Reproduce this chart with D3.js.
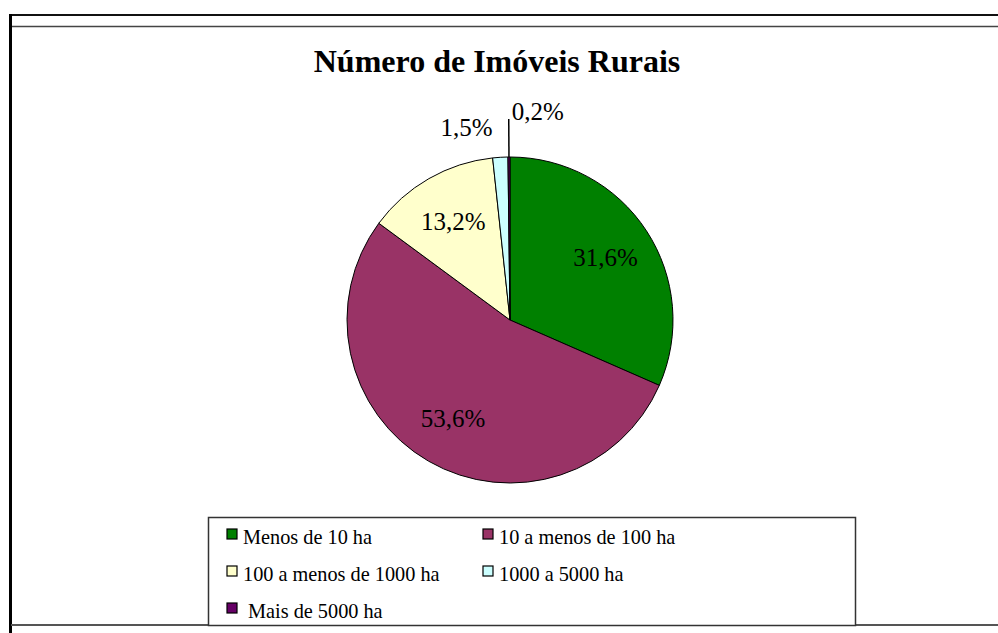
<!DOCTYPE html>
<html>
<head>
<meta charset="utf-8">
<script src="https://cdn.jsdelivr.net/npm/d3@7"></script>
</head>
<body style="margin:0">
<script>
// data
var categories = ["Menos de 10 ha", "10 a menos de 100 ha", "100 a menos de 1000 ha", "1000 a 5000 ha", "Mais de 5000 ha"];
var values = [31.6, 53.6, 13.2, 1.5, 0.2];
var colors = ["#008000", "#993366", "#ffffcc", "#ccffff", "#660066"];
var title = "Número de Imóveis Rurais";

var width = 998, height = 633;
var cx = 510, cy = 320, radius = 163;
var serif = "'Liberation Serif', 'Times New Roman', serif";

var svg = d3.select("body")
  .append("svg")
    .attr("width", width)
    .attr("height", height)
    .style("display", "block")
    .style("font-family", serif);

// frame lines of the embedded chart
svg.append("line").attr("x1", 9).attr("x2", width).attr("y1", 15).attr("y2", 15)
  .attr("stroke", "#111").attr("stroke-width", 2);
svg.append("line").attr("x1", 12).attr("x2", width).attr("y1", 26.5).attr("y2", 26.5)
  .attr("stroke", "#444").attr("stroke-width", 1.5);
svg.append("line").attr("x1", 10.5).attr("x2", 10.5).attr("y1", 14).attr("y2", height)
  .attr("stroke", "#000").attr("stroke-width", 3);
svg.append("line").attr("x1", 11).attr("x2", width).attr("y1", 625).attr("y2", 625)
  .attr("stroke", "#555").attr("stroke-width", 2);

svg.append("text")
  .attr("x", 497)
  .attr("y", 72)
  .attr("text-anchor", "middle")
  .style("font-size", "32px")
  .style("font-weight", "bold")
  .text(title);

var color = d3.scaleOrdinal().domain(categories).range(colors);

var pie = d3.pie().sort(null).value(function(d, i) { return values[i]; });
var arcs = pie(categories);

var arc = d3.arc().innerRadius(0).outerRadius(radius);
var labelArc = d3.arc().innerRadius(114).outerRadius(114);

var g = svg.append("g").attr("transform", "translate(" + cx + "," + cy + ")");

g.selectAll("path")
  .data(arcs)
  .enter()
  .append("path")
    .attr("d", arc)
    .attr("fill", function(d) { return color(d.data); })
    .attr("stroke", "#000")
    .attr("stroke-width", 1);

function fmt(v) { return v.toFixed(1).replace(".", ",") + "%"; }

// labels inside the big slices
g.selectAll("text.inside")
  .data(arcs.filter(function(d, i) { return values[i] >= 5; }))
  .enter()
  .append("text")
    .attr("class", "inside")
    .attr("transform", function(d) { return "translate(" + labelArc.centroid(d) + ")"; })
    .attr("text-anchor", "middle")
    .attr("dy", "0.35em")
    .style("font-size", "25px")
    .text(function(d) { return fmt(values[d.index]); });

// small slices get labels outside
var small = arcs.filter(function(d, i) { return values[i] < 5; });
small.forEach(function(d) {
  var a = (d.startAngle + d.endAngle) / 2;
  var v = values[d.index];
  if (v < 1) {
    var r2 = radius + 38;
    var x0 = Math.sin(a) * radius, y0 = -Math.cos(a) * radius;
    var x1 = Math.sin(a) * r2, y1 = -Math.cos(a) * r2;
    g.append("line")
      .attr("x1", x0).attr("y1", y0).attr("x2", x1).attr("y2", y1)
      .attr("stroke", "#000").attr("stroke-width", 1.5);
    g.append("text")
      .attr("x", x1 + 3)
      .attr("y", y1 + 1)
      .style("font-size", "25px")
      .text(fmt(v));
  } else {
    var r3 = radius + 31;
    g.append("text")
      .attr("x", Math.sin(a) * r3 - 6)
      .attr("y", -Math.cos(a) * r3 + 10)
      .attr("text-anchor", "end")
      .style("font-size", "25px")
      .text(fmt(v));
  }
});

// legend
var legend = svg.append("g").attr("transform", "translate(208,517)");
legend.append("rect")
  .attr("x", 0.5).attr("y", 0.5)
  .attr("width", 647).attr("height", 108)
  .attr("fill", "#fff")
  .attr("stroke", "#333")
  .attr("stroke-width", 1.5);

var item = legend.selectAll("g.item")
  .data(categories)
  .enter()
  .append("g")
    .attr("class", "item")
    .attr("transform", function(d, i) {
      return "translate(" + (19 + (i % 2) * 256) + "," + (12 + Math.floor(i / 2) * 37) + ")";
    });

item.append("rect")
  .attr("width", 10).attr("height", 10)
  .attr("fill", function(d) { return color(d); })
  .attr("stroke", "#000")
  .attr("stroke-width", 1.2);

item.append("text")
  .attr("x", function(d, i) { return i === 4 ? 21 : 16; })
  .attr("y", 15)
  .style("font-size", "20.3px")
  .text(function(d) { return d; });
</script>
</body>
</html>
